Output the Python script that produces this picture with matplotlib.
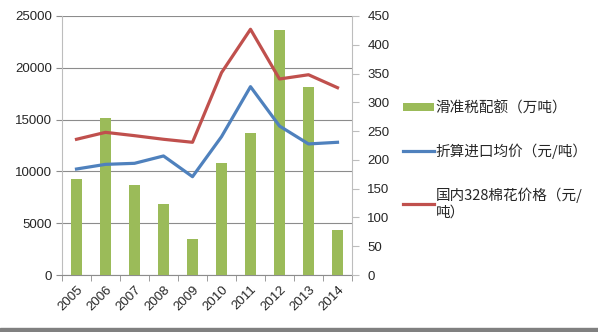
import matplotlib
matplotlib.use("Agg")
import matplotlib.pyplot as plt
from matplotlib.patches import Patch, Rectangle
from matplotlib.lines import Line2D
from matplotlib.ticker import FixedLocator, MultipleLocator

plt.rcParams['font.family'] = ['Noto Sans CJK SC', 'DejaVu Sans']

years = ['2005', '2006', '2007', '2008', '2009', '2010', '2011', '2012', '2013', '2014']
# 滑准税配额（万吨）, right axis
quota = [167, 272, 157, 124, 63, 195, 247, 426, 326, 79]
# 折算进口均价（元/吨）, left axis
import_price = [10230, 10680, 10780, 11490, 9490, 13350, 18180, 14380, 12650, 12810]
# 国内328棉花价格（元/吨）, left axis
domestic_price = [13100, 13770, 13450, 13100, 12810, 19530, 23720, 18920, 19330, 18080]

green = '#9BBB59'
blue = '#4F81BD'
red = '#C0504D'
grey = '#8c8c8c'
txt = '#262626'

fig = plt.figure(figsize=(5.98, 3.32), dpi=100)
rect = [62 / 598, 1 - 275 / 332, 290 / 598, 259 / 332]

# left axis: price scale + grid
ax = fig.add_axes(rect)
# right axis: quota bars
ax2 = ax.twinx()
# top layer: price lines on the same scale as the left axis
ax3 = ax.twinx()

x = list(range(len(years)))

ax2.bar(x, quota, width=0.41, color=green)
ax3.plot(x, import_price, color=blue, lw=2.3, solid_joinstyle='round')
ax3.plot(x, domestic_price, color=red, lw=2.3, solid_joinstyle='round')

for a in (ax, ax2, ax3):
    a.set_xlim(-0.5, len(years) - 0.5)
    a.patch.set_visible(False)
    for s in a.spines.values():
        s.set_visible(False)

ax.set_ylim(0, 25000)
ax3.set_ylim(0, 25000)
ax2.set_ylim(0, 450)

ax.yaxis.set_major_locator(MultipleLocator(5000))
ax.grid(axis='y', color=grey, lw=0.8)
ax.set_axisbelow(True)
ax.spines['left'].set_visible(True)
ax.spines['left'].set_color('#bdbdbd')
ax.spines['bottom'].set_visible(True)
ax.spines['bottom'].set_color(grey)
ax.tick_params(axis='y', length=4, color=grey, labelsize=9.5, labelcolor=txt, pad=3)
for lab in ax.get_yticklabels():
    lab.set_family(['Liberation Sans'])

ax.set_xticks(x)
ax.set_xticklabels(years, rotation=45, ha='right', rotation_mode='anchor',
                   fontsize=9.5, color=txt, family=['Liberation Sans'])
ax.xaxis.set_minor_locator(FixedLocator([i - 0.5 for i in range(len(years) + 1)]))
ax.tick_params(axis='x', which='major', length=0, pad=6)
ax.tick_params(axis='x', which='minor', length=4, color=grey)

ax2.yaxis.set_major_locator(MultipleLocator(50))
ax2.spines['right'].set_visible(True)
ax2.spines['right'].set_color('#bdbdbd')
ax2.tick_params(axis='y', length=5, color='#bdbdbd', labelsize=9.5, labelcolor=txt, pad=6)
for lab in ax2.get_yticklabels():
    lab.set_family(['Liberation Sans'])
ax2.tick_params(axis='x', length=0, labelbottom=False)

ax3.set_yticks([])
ax3.tick_params(axis='x', length=0, labelbottom=False)

handles = [
    Patch(facecolor=green, edgecolor='none'),
    Line2D([], [], color=blue, lw=2.3),
    Line2D([], [], color=red, lw=2.3),
]
labels = ['滑准税配额（万吨）', '折算进口均价（元/吨）', '国内328棉花价格（元/\n吨）']
leg = fig.legend(handles, labels, loc='upper left', bbox_to_anchor=(403 / 598, 1 - 101 / 332),
                 frameon=False, fontsize=10.5, handlelength=2.1, handleheight=0.55,
                 handletextpad=0.15, labelspacing=1.95, borderaxespad=0, borderpad=0)
for t in leg.get_texts():
    t.set_color(txt)

fig.patches.append(Rectangle((0, 0), 1, 4 / 332, transform=fig.transFigure,
                             color='#808080', zorder=0))

fig.savefig('out.png', dpi=100)
